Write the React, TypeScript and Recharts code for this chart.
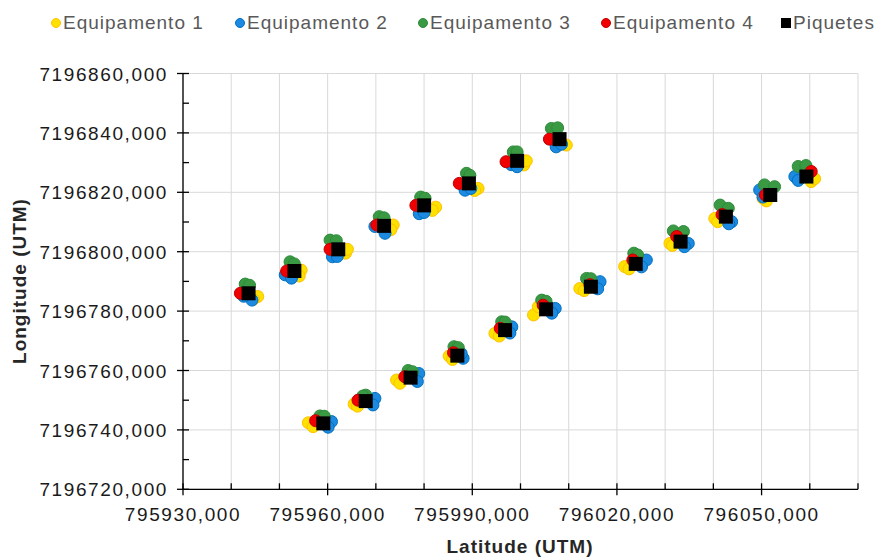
import { ScatterChart, Scatter, XAxis, YAxis, CartesianGrid } from "recharts";

// leituras [latitude, longitude] em UTM
const equipamento1: [number, number][] = [
  [795945.5, 7196784.9], [795944.6, 7196784.0],
  [795954.5, 7196793.8], [795954.1, 7196791.8],
  [795963.7, 7196799.5], [795964.1, 7196800.8],
  [795973.6, 7196809.0], [795973.1, 7196807.4],
  [795982.4, 7196815.0], [795981.7, 7196813.9],
  [795991.2, 7196821.3], [795990.5, 7196820.6],
  [796000.7, 7196829.2], [796001.2, 7196830.6],
  [796009.5, 7196835.9], [796007.5, 7196835.5],
  [795956.0, 7196742.4], [795957.0, 7196741.1],
  [795965.5, 7196748.7], [795966.2, 7196748.0],
  [795974.3, 7196756.8], [795975.0, 7196755.7],
  [795985.2, 7196764.9], [795985.9, 7196763.7],
  [795994.7, 7196772.5], [795995.6, 7196771.6],
  [796002.7, 7196778.7], [796003.7, 7196781.5],
  [796012.3, 7196787.6], [796013.2, 7196786.9],
  [796021.6, 7196795.0], [796022.5, 7196794.2],
  [796031.0, 7196802.8], [796031.5, 7196802.1],
  [796040.3, 7196811.2], [796040.9, 7196810.1],
  [796050.3, 7196818.0], [796051.0, 7196817.1],
  [796060.3, 7196823.6], [796061.0, 7196824.6],
];

const equipamento2: [number, number][] = [
  [795944.3, 7196783.7], [795942.6, 7196785.0],
  [795951.2, 7196792.2], [795952.5, 7196791.1],
  [795961.0, 7196798.3], [795962.0, 7196798.4],
  [795969.8, 7196808.5], [795971.9, 7196806.2],
  [795979.0, 7196812.8], [795980.0, 7196813.2],
  [795988.5, 7196820.7], [795989.7, 7196821.3],
  [795998.1, 7196829.3], [795999.3, 7196828.6],
  [796007.4, 7196835.3], [796008.5, 7196836.2],
  [795960.8, 7196742.8], [795960.1, 7196740.9],
  [795969.8, 7196750.6], [795969.4, 7196748.4],
  [795978.9, 7196759.0], [795978.6, 7196756.3],
  [795988.1, 7196764.1], [795987.7, 7196765.7],
  [795998.2, 7196774.7], [795997.8, 7196772.6],
  [796007.2, 7196780.9], [796006.5, 7196779.3],
  [796016.5, 7196789.9], [796016.0, 7196787.5],
  [796026.1, 7196797.2], [796025.1, 7196794.9],
  [796034.8, 7196802.8], [796034.0, 7196801.7],
  [796043.8, 7196810.1], [796043.2, 7196809.4],
  [796049.6, 7196820.8], [796050.3, 7196818.4],
  [796056.9, 7196825.3], [796057.6, 7196824.0],
];

const equipamento3: [number, number][] = [
  [795942.9, 7196789.1], [795943.8, 7196788.7],
  [795952.2, 7196796.6], [795953.1, 7196795.9],
  [795960.5, 7196803.9], [795961.8, 7196803.7],
  [795970.7, 7196811.8], [795971.7, 7196811.4],
  [795979.3, 7196818.4], [795980.2, 7196818.0],
  [795988.8, 7196826.4], [795989.5, 7196825.7],
  [795998.5, 7196833.6], [795999.3, 7196833.6],
  [796006.4, 7196841.5], [796007.7, 7196841.7],
  [795958.4, 7196744.7], [795959.3, 7196744.6],
  [795967.9, 7196751.7], [795967.3, 7196751.4],
  [795976.7, 7196760.0], [795977.6, 7196759.6],
  [795986.2, 7196768.0], [795987.1, 7196767.7],
  [795996.1, 7196776.4], [795996.8, 7196776.3],
  [796004.4, 7196783.7], [796005.3, 7196783.3],
  [796013.7, 7196791.0], [796014.6, 7196790.9],
  [796023.5, 7196799.5], [796024.3, 7196798.9],
  [796031.7, 7196807.0], [796033.8, 7196806.8],
  [796041.4, 7196815.7], [796043.1, 7196814.6],
  [796050.6, 7196822.5], [796052.7, 7196821.9],
  [796057.6, 7196828.7], [796059.2, 7196829.0],
];

const equipamento4: [number, number][] = [
  [795941.9, 7196786.0], [795951.5, 7196793.5], [795960.5, 7196800.8], [795970.2, 7196809.0],
  [795978.3, 7196815.6], [795987.3, 7196823.0], [795997.0, 7196830.3], [796006.0, 7196837.9],
  [795957.5, 7196743.1], [795966.3, 7196750.0], [795976.0, 7196757.9], [795986.1, 7196766.0],
  [795995.8, 7196774.2], [796004.7, 7196782.0], [796014.4, 7196788.9], [796023.3, 7196797.2],
  [796032.4, 7196805.1], [796041.8, 7196812.5], [796050.8, 7196819.1], [796060.3, 7196827.0],
];

const piquetes: [number, number][] = [
  [795943.6, 7196786.0], [795953.1, 7196793.5], [795962.2, 7196800.8], [795971.7, 7196808.7],
  [795980.0, 7196815.6], [795989.3, 7196823.0], [795999.3, 7196830.6], [796008.1, 7196837.9],
  [795959.1, 7196742.2], [795967.9, 7196749.7], [795977.2, 7196757.6], [795986.9, 7196765.0],
  [795996.8, 7196773.6], [796005.3, 7196780.6], [796014.6, 7196788.2], [796023.9, 7196795.9],
  [796033.2, 7196803.4], [796042.6, 7196811.8], [796051.8, 7196819.1], [796059.3, 7196825.3],
];

const xTicks = [
  795930, 795940, 795950, 795960, 795970, 795980, 795990, 796000,
  796010, 796020, 796030, 796040, 796050, 796060, 796070,
];
const xLabels = [795930, 795960, 795990, 796020, 796050];
const yTicks = [
  7196720, 7196730, 7196740, 7196750, 7196760, 7196770, 7196780, 7196790,
  7196800, 7196810, 7196820, 7196830, 7196840, 7196850, 7196860,
];
const yLabels = [7196720, 7196740, 7196760, 7196780, 7196800, 7196820, 7196840, 7196860];

const toPoints = (rows: [number, number][]) => rows.map(([x, y]) => ({ x, y }));

const fmt = (v: number) => v.toFixed(3).replace(".", ",");

const FONT = '"Liberation Sans", Arial, sans-serif';

const series = [
  { name: "Equipamento 1", rows: equipamento1, fill: "#FFE100", stroke: "#FFC000" },
  { name: "Equipamento 2", rows: equipamento2, fill: "#1B8AE0", stroke: "#0070C0" },
  { name: "Equipamento 3", rows: equipamento3, fill: "#3A9A44", stroke: "#2E8B3A" },
  { name: "Equipamento 4", rows: equipamento4, fill: "#F00000", stroke: "#C00000" },
];

const XTick = (props: any) => {
  const { x, y, payload } = props;
  const major = xLabels.includes(payload.value);
  return (
    <g>
      <line x1={x} x2={x} y1={y - 6} y2={major ? y + 6 : y} stroke="#000" strokeWidth={1.3} />
      {major && (
        <text x={x} y={y + 32} textAnchor="middle" fontSize={19} letterSpacing={1.6} fill="#1a1a1a" fontFamily={FONT}>
          {fmt(payload.value)}
        </text>
      )}
    </g>
  );
};

const YTick = (props: any) => {
  const { x, y, payload } = props;
  const major = yLabels.includes(payload.value);
  return (
    <g>
      <line x1={major ? x - 6 : x} x2={x + 6} y1={y} y2={y} stroke="#000" strokeWidth={1.3} />
      {major && (
        <text x={x - 15} y={y + 7} textAnchor="end" fontSize={19} letterSpacing={1.6} fill="#1a1a1a" fontFamily={FONT}>
          {fmt(payload.value)}
        </text>
      )}
    </g>
  );
};

const Dot = (fill: string, stroke: string) => (p: any) =>
  <circle cx={p.cx} cy={p.cy} r={6} fill={fill} stroke={stroke} strokeWidth={1} />;

const SquareMark = (p: any) => <rect x={p.cx - 7} y={p.cy - 7} width={14} height={14} fill="#000" />;

const legendItems = [
  { name: "Equipamento 1", left: 51, fill: "#FFE100", stroke: "#FFC000", square: false },
  { name: "Equipamento 2", left: 235, fill: "#1B8AE0", stroke: "#0070C0", square: false },
  { name: "Equipamento 3", left: 418, fill: "#3A9A44", stroke: "#2E8B3A", square: false },
  { name: "Equipamento 4", left: 601, fill: "#F00000", stroke: "#C00000", square: false },
  { name: "Piquetes", left: 781, fill: "#000", stroke: "#000", square: true },
];

export default function App() {
  return (
    <div style={{ position: "absolute", left: 0, top: 0, width: 880, height: 558, background: "#fff", fontFamily: FONT }}>
      {legendItems.map((it) => (
        <div
          key={it.name}
          style={{ position: "absolute", left: it.left, top: 12, height: 22, display: "flex", alignItems: "center", gap: 2 }}
        >
          <span
            style={{
              width: 10,
              height: 10,
              boxSizing: "border-box",
              borderRadius: it.square ? 0 : "50%",
              background: it.fill,
              border: `1px solid ${it.stroke}`,
            }}
          />
          <span style={{ fontSize: 19, letterSpacing: 1, color: "#595959", lineHeight: "22px" }}>{it.name}</span>
        </div>
      ))}
      <ScatterChart width={880} height={558} margin={{ top: 73.5, right: 22, bottom: 0, left: 0 }}>
        <CartesianGrid stroke="#D9D9D9" strokeWidth={1} verticalValues={xTicks} horizontalValues={yLabels} />
        <XAxis
          type="number"
          dataKey="x"
          domain={[795930, 796070]}
          ticks={xTicks}
          interval={0}
          height={68.7}
          tickSize={0}
          tickMargin={0}
          tickLine={false}
          axisLine={{ stroke: "#000", strokeWidth: 1.3 }}
          tick={<XTick />}
          label={{
            content: () => (
              <text x={520} y={553} textAnchor="middle" fontSize={19} fontWeight="bold" letterSpacing={1} fill="#262626" fontFamily={FONT}>
                Latitude (UTM)
              </text>
            ),
          }}
        />
        <YAxis
          type="number"
          dataKey="y"
          domain={[7196720, 7196860]}
          ticks={yTicks}
          interval={0}
          width={183}
          tickSize={0}
          tickMargin={0}
          tickLine={false}
          axisLine={{ stroke: "#000", strokeWidth: 1.3 }}
          tick={<YTick />}
          label={{
            content: () => (
              <text
                x={26}
                y={281}
                transform="rotate(-90 26 281)"
                textAnchor="middle"
                fontSize={19}
                fontWeight="bold"
                letterSpacing={1}
                fill="#262626"
                fontFamily={FONT}
              >
                Longitude (UTM)
              </text>
            ),
          }}
        />
        {series.map((s) => (
          <Scatter
            key={s.name}
            name={s.name}
            data={toPoints(s.rows)}
            shape={Dot(s.fill, s.stroke)}
            isAnimationActive={false}
          />
        ))}
        <Scatter name="Piquetes" data={toPoints(piquetes)} shape={SquareMark} isAnimationActive={false} />
      </ScatterChart>
    </div>
  );
}
